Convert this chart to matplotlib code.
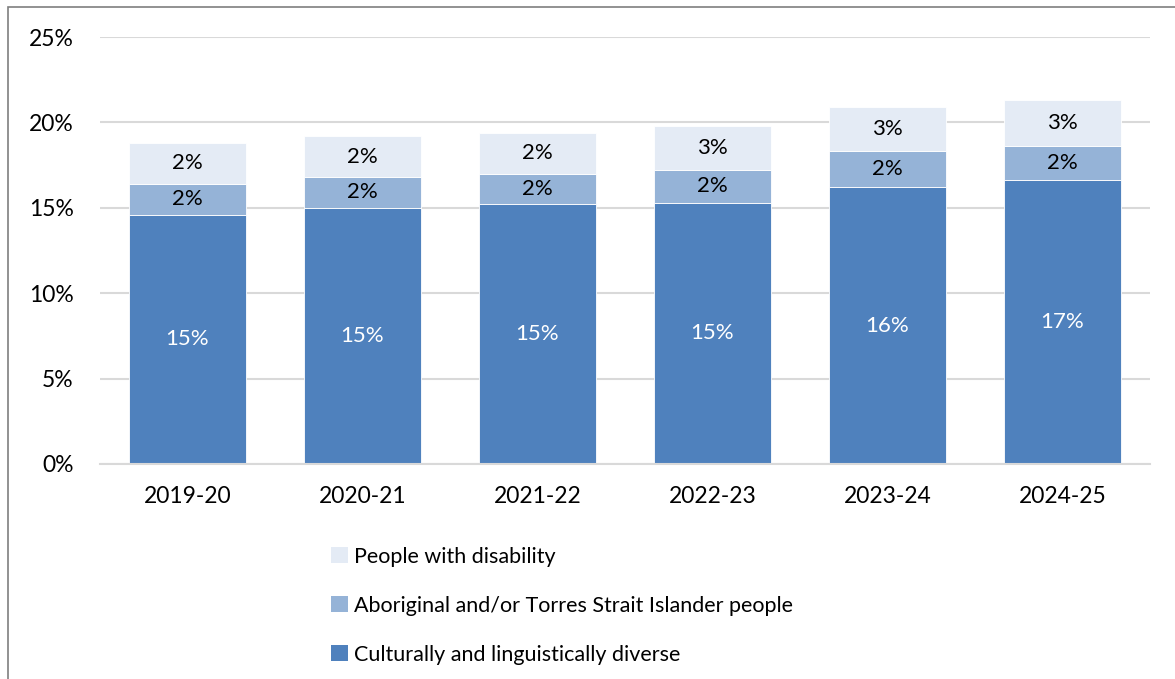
import matplotlib.pyplot as plt
from matplotlib.patches import Patch, Rectangle

plt.rcParams['font.family'] = ['Lato', 'DejaVu Sans']

years = ["2019-20", "2020-21", "2021-22", "2022-23", "2023-24", "2024-25"]
cald = [14.6, 15.0, 15.2, 15.3, 16.2, 16.6]
aboriginal = [1.8, 1.8, 1.8, 1.9, 2.1, 2.0]
disability = [2.4, 2.4, 2.4, 2.6, 2.6, 2.7]

labels = ["Culturally and linguistically diverse",
          "Aboriginal and/or Torres Strait Islander people",
          "People with disability"]
colors = ["#4F81BD", "#95B3D7", "#E4EBF5"]
text_colors = ["white", "black", "black"]

fig = plt.figure(figsize=(11.75, 6.79), dpi=100)
ax = fig.add_axes([100 / 1175, 215 / 679, 1050 / 1175, 427 / 679])

x = range(len(years))
bottom = [0.0] * len(years)
for series, color, tcolor in zip([cald, aboriginal, disability], colors, text_colors):
    bars = ax.bar(x, series, width=0.67, bottom=bottom, color=color,
                  edgecolor="white", linewidth=0.6, zorder=2)
    for rect, v, b in zip(bars, series, bottom):
        ax.text(rect.get_x() + rect.get_width() / 2, b + v / 2, f"{v:.0f}%",
                ha="center", va="center", fontsize=16, color=tcolor, zorder=3)
    bottom = [b + v for b, v in zip(bottom, series)]

ax.set_xlim(-0.5, len(years) - 0.5)
ax.set_ylim(0, 25)
ax.set_yticks([0, 5, 10, 15, 20, 25])
ax.set_yticklabels([f"{t}%" for t in [0, 5, 10, 15, 20, 25]])
ax.set_xticks(list(x))
ax.set_xticklabels(years)
ax.tick_params(axis="both", length=0, labelsize=16.5, colors="black")
ax.tick_params(axis="y", pad=19)
ax.tick_params(axis="x", pad=16)
ax.grid(axis="y", color="#D9D9D9", linewidth=1.5, zorder=0)
for side in ["top", "right", "left"]:
    ax.spines[side].set_visible(False)
ax.spines["bottom"].set_color("#D9D9D9")
ax.spines["bottom"].set_linewidth(1.5)

handles = [Patch(facecolor=c) for c in colors]
fig.legend(handles[::-1], labels[::-1], loc="upper left",
           bbox_to_anchor=(322 / 1175, 1 - 538 / 679), frameon=False,
           fontsize=15.5, handlelength=0.8, handleheight=0.8,
           handletextpad=0.3, labelspacing=1.35, borderaxespad=0)

# outer frame
fig.add_artist(Rectangle((8 / 1175, -0.05), 1.2, 1 - 7 / 679 + 0.05,
                         transform=fig.transFigure, fill=False,
                         edgecolor="#7F7F7F", linewidth=1.2))

fig.savefig("out.png", dpi=100)
